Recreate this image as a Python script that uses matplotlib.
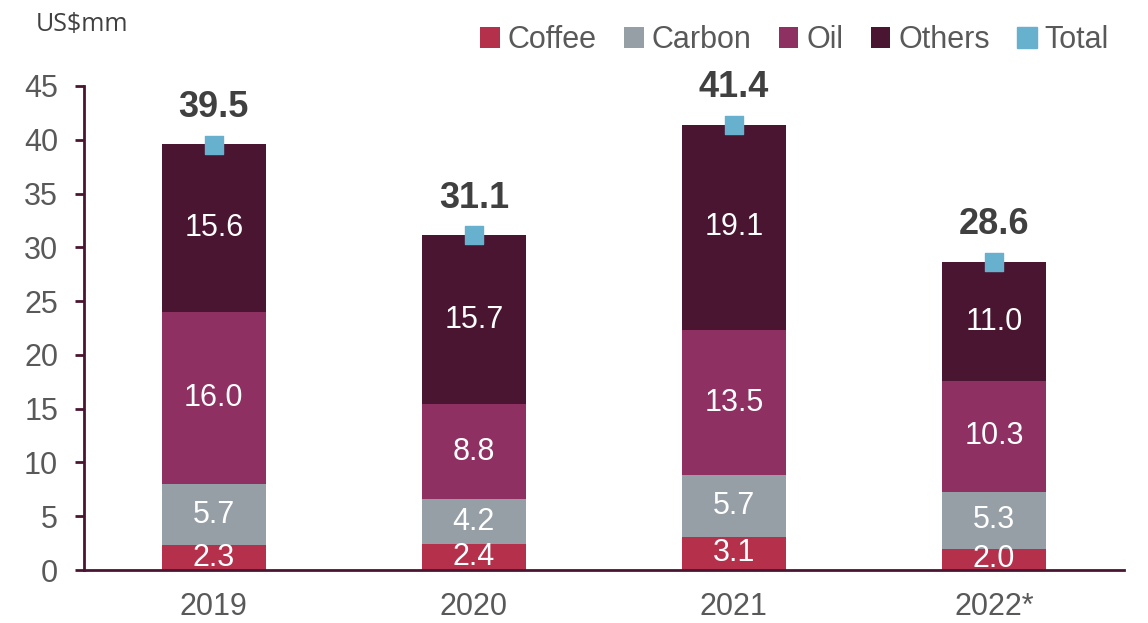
import matplotlib.pyplot as plt
from matplotlib.patches import Patch
import numpy as np

years = ['2019', '2020', '2021', '2022*']
coffee = [2.3, 2.4, 3.1, 2.0]
carbon = [5.7, 4.2, 5.7, 5.3]
oil = [16.0, 8.8, 13.5, 10.3]
others = [15.6, 15.7, 19.1, 11.0]
total = [39.5, 31.1, 41.4, 28.6]

series = [('Coffee', coffee, '#B5304A'),
          ('Carbon', carbon, '#969EA6'),
          ('Oil', oil, '#8E3061'),
          ('Others', others, '#4A1530')]

plt.rcParams['font.family'] = ['Liberation Sans', 'DejaVu Sans']
fig = plt.figure(figsize=(11.48, 6.23), dpi=100)
ax = fig.add_axes([0.073, 0.085, 0.906, 0.777])

x = np.arange(len(years))
bottom = np.zeros(len(years))
handles = []
for name, vals, col in series:
    h = ax.bar(x, vals, 0.4, bottom=bottom, color=col, label=name, zorder=2)
    handles.append(h)
    for xi, b, v in zip(x, bottom, vals):
        ax.text(xi, b + v / 2, f'{v:.1f}', ha='center', va='center',
                color='white', fontsize=22, zorder=3)
    bottom += np.array(vals)

ax.scatter(x, total, marker='s', s=150, color='#67B1CF', zorder=4)
handles.append(Patch(color='#67B1CF', label='Total'))
for xi, t in zip(x, total):
    ax.text(xi, t + 2.6, f'{t:.1f}', ha='center', va='baseline',
            fontsize=26, fontweight='bold', color='#404040')

ax.set_xlim(-0.5, 3.5)
ax.set_ylim(0, 45)
ax.set_yticks(range(0, 46, 5))
ax.set_xticks(x)
ax.set_xticklabels(years)
ax.tick_params(axis='y', labelsize=22, labelcolor='#595959', color='#4A1530',
               length=6.5, width=2, pad=12)
ax.tick_params(axis='x', labelsize=22, labelcolor='#595959', length=0, pad=16)
for s in ['top', 'right']:
    ax.spines[s].set_visible(False)
for s in ['left', 'bottom']:
    ax.spines[s].set_color('#4A1530')
    ax.spines[s].set_linewidth(2)

ax.legend(handles=handles, loc='lower right', bbox_to_anchor=(1.015, 1.0), ncol=5,
          frameon=False, handlelength=0.65, handleheight=0.65, handletextpad=0.25,
          columnspacing=0.9, labelcolor='#595959', borderaxespad=0.6,
          prop={'size': 22})

fig.text(0.031, 0.95, 'US$mm', fontsize=18, color='#404040', family='Open Sans')

fig.savefig('out.png', dpi=100)
